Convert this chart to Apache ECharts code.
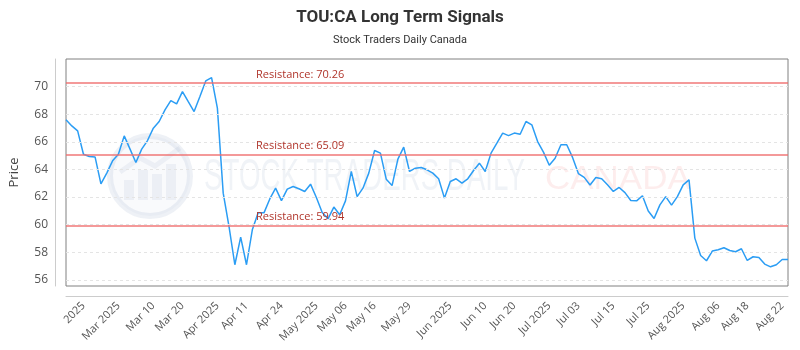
<!DOCTYPE html>
<html>
<head>
<meta charset="utf-8">
<script src="https://cdn.jsdelivr.net/npm/echarts@6/dist/echarts.min.js"></script>
<style>
html,body{margin:0;padding:0;background:#fff;}
#chart{width:800px;height:350px;}
</style>
</head>
<body>
<div id="chart"></div>
<script>
// ---- data ----
const prices = [
  67.59, 67.15, 66.79, 65.10, 64.93, 64.89, 62.95, 63.73, 64.62, 65.10,
  66.43, 65.47, 64.50, 65.47, 66.09, 66.99, 67.47, 68.31, 68.99, 68.75,
  69.64, 68.91, 68.19, 69.28, 70.41, 70.65, 68.44, 62.28, 59.86, 57.09,
  59.09, 57.09, 59.62, 60.85, 60.85, 61.86, 62.64, 61.74, 62.57, 62.76,
  62.60, 62.40, 62.93, 61.96, 60.87, 60.42, 61.27, 60.71, 61.72, 63.85,
  62.03, 62.64, 63.73, 65.37, 65.18, 63.29, 62.83, 64.74, 65.61, 63.85,
  64.09, 64.14, 63.97, 63.73, 63.32, 61.92, 63.12, 63.32, 63.00, 63.32,
  63.92, 64.45, 63.85, 65.18, 65.90, 66.63, 66.45, 66.63, 66.55, 67.47,
  67.23, 66.02, 65.25, 64.30, 64.81, 65.79, 65.79, 64.87, 63.70, 63.42,
  62.87, 63.41, 63.33, 62.88, 62.40, 62.69, 62.32, 61.75, 61.72, 62.09,
  60.98, 60.44, 61.43, 62.03, 61.41, 62.03, 62.88, 63.24, 59.02, 57.76,
  57.38, 58.08, 58.18, 58.32, 58.12, 58.03, 58.25, 57.40, 57.67, 57.62,
  57.14, 56.94, 57.09, 57.47, 57.47
];
const categories = prices.map((_, i) => String(i));
const tickLabels = ["2025","Mar 2025","Mar 10","Mar 20","Apr 2025","Apr 11","Apr 24","May 2025","May 06","May 16","May 29","Jun 2025","Jun 10","Jun 20","Jul 2025","Jul 03","Jul 15","Jul 25","Aug 2025","Aug 06","Aug 18","Aug 22"];
const tickIndices = [3,9,15,20,26,31,37,43,48,53,59,66,72,77,83,88,94,100,106,112,117,123];
const resistanceLevels = [70.26, 65.09, 59.94];
const yTickValues = [56,58,60,62,64,66,68,70];

const labelAt = {};
tickIndices.forEach((idx, k) => { labelAt[idx] = tickLabels[k]; });

const chart = echarts.init(document.getElementById('chart'), null, {renderer: 'canvas'});

const wmColor = 'rgba(70,100,150,0.07)';
const option = {
  animation: false,
  backgroundColor: '#fff',
  title: {
    text: 'TOU:CA Long Term Signals',
    subtext: 'Stock Traders Daily Canada',
    left: 'center',
    top: 4,
    itemGap: 9,
    textStyle: {fontFamily: 'Roboto', fontWeight: 'bold', fontSize: 17, color: '#333'},
    subtextStyle: {fontFamily: 'Roboto', fontSize: 11, color: '#333'}
  },
  graphic: [
    {type: 'circle', shape: {cx: 150, cy: 176, r: 40}, style: {fill: 'rgba(70,100,150,0.03)', stroke: 'rgba(70,100,150,0.09)', lineWidth: 6}, z: 0, silent: true},
    {type: 'rect', shape: {x: 124, y: 180, width: 10, height: 20}, style: {fill: wmColor}, silent: true},
    {type: 'rect', shape: {x: 138, y: 170, width: 10, height: 30}, style: {fill: wmColor}, silent: true},
    {type: 'rect', shape: {x: 152, y: 174, width: 10, height: 26}, style: {fill: wmColor}, silent: true},
    {type: 'rect', shape: {x: 166, y: 164, width: 10, height: 36}, style: {fill: wmColor}, silent: true},
    {type: 'polyline', shape: {points: [[120,172],[140,158],[155,166],[180,148]]}, style: {stroke: wmColor, lineWidth: 5, fill: null}, silent: true},
    {type: 'text', x: 204, y: 178, scaleX: 0.63, style: {text: 'STOCK TRADERS DAILY', font: '44px "Liberation Sans"', fill: 'rgba(70,100,150,0.08)', textVerticalAlign: 'middle'}, silent: true},
    {type: 'text', x: 545, y: 180, scaleX: 1.06, style: {text: 'CANADA', font: '33px "Liberation Sans"', fill: 'rgba(230,60,60,0.09)', textVerticalAlign: 'middle'}, silent: true}
  ],
  grid: {
    left: 62, right: 12, top: 59, bottom: 64,
    show: true, borderColor: '#808080', borderWidth: 1, backgroundColor: 'transparent'
  },
  xAxis: {
    type: 'category',
    data: categories,
    boundaryGap: false,
    offset: 10,
    axisLine: {show: true, lineStyle: {color: '#ccc', width: 1}},
    axisTick: {show: false},
    splitLine: {show: false},
    axisLabel: {
      rotate: 45,
      margin: 8,
      fontFamily: 'Open Sans',
      fontSize: 11,
      color: '#555',
      interval: (index) => labelAt[index] !== undefined,
      formatter: (value, index) => labelAt[index] || ''
    }
  },
  yAxis: {
    type: 'value',
    min: 55.55,
    max: 72,
    offset: 11,
    name: 'Price',
    nameLocation: 'middle',
    nameGap: 34,
    nameTextStyle: {fontFamily: 'Open Sans', fontSize: 13, color: '#444'},
    axisLine: {show: true, lineStyle: {color: '#ccc', width: 1}},
    axisTick: {show: false, customValues: yTickValues},
    axisLabel: {
      margin: 7,
      fontFamily: 'Open Sans',
      fontSize: 12,
      color: '#555',
      customValues: yTickValues
    },
    splitLine: {show: false},
    minorSplitLine: {show: false}
  },
  series: [
    {
      // horizontal dashed grid lines at the y tick values
      type: 'line',
      data: [],
      silent: true,
      z: 1,
      markLine: {
        silent: true,
        symbol: 'none',
        animation: false,
        lineStyle: {color: '#e4e4e4', width: 1, type: [3, 3]},
        label: {show: false},
        data: yTickValues.map(v => ({yAxis: v}))
      }
    },
    {
      type: 'line',
      data: prices,
      showSymbol: false,
      symbol: 'none',
      lineStyle: {color: '#2b9df4', width: 1.5},
      itemStyle: {color: '#2b9df4'},
      z: 3,
      markLine: {
        silent: true,
        symbol: 'none',
        animation: false,
        lineStyle: {color: 'rgba(240,110,110,0.7)', width: 2, type: 'solid'},
        label: {
          show: true,
          position: 'insideStartTop',
          distance: [190, 3],
          formatter: (p) => 'Resistance: ' + p.value.toFixed(2),
          color: '#b0352b',
          fontFamily: 'Open Sans',
          fontSize: 11
        },
        data: resistanceLevels.map(v => ({yAxis: v}))
      }
    }
  ]
};
chart.setOption(option);
</script>
</body>
</html>
